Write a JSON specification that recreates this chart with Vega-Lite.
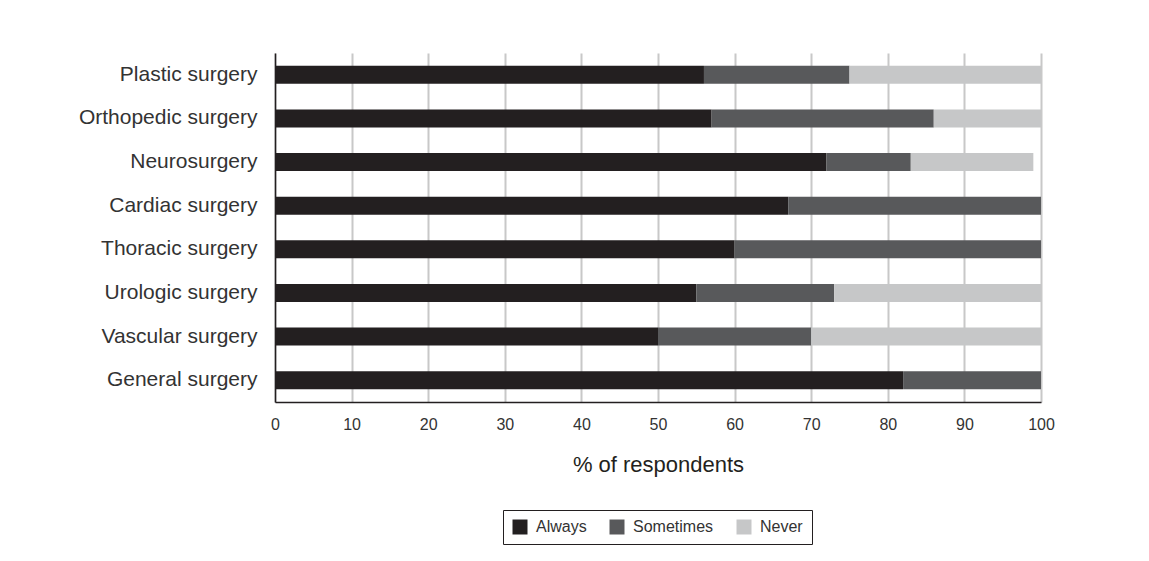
{
  "$schema": "https://vega.github.io/schema/vega-lite/v6.json",
  "autosize": {"type": "none"},
  "padding": {"left": 275, "top": 53, "right": 108, "bottom": 159},
  "width": 766,
  "height": 349,
  "background": "white",
  "config": {"view": {"stroke": null}, "font": "Liberation Sans"},
  "data": {
    "values": [
      {"specialty": "Plastic surgery", "response": "Always", "ord": 1, "pct": 56},
      {"specialty": "Plastic surgery", "response": "Sometimes", "ord": 2, "pct": 19},
      {"specialty": "Plastic surgery", "response": "Never", "ord": 3, "pct": 25},
      {"specialty": "Orthopedic surgery", "response": "Always", "ord": 1, "pct": 57},
      {"specialty": "Orthopedic surgery", "response": "Sometimes", "ord": 2, "pct": 29},
      {"specialty": "Orthopedic surgery", "response": "Never", "ord": 3, "pct": 14},
      {"specialty": "Neurosurgery", "response": "Always", "ord": 1, "pct": 72},
      {"specialty": "Neurosurgery", "response": "Sometimes", "ord": 2, "pct": 11},
      {"specialty": "Neurosurgery", "response": "Never", "ord": 3, "pct": 16},
      {"specialty": "Cardiac surgery", "response": "Always", "ord": 1, "pct": 67},
      {"specialty": "Cardiac surgery", "response": "Sometimes", "ord": 2, "pct": 33},
      {"specialty": "Thoracic surgery", "response": "Always", "ord": 1, "pct": 60},
      {"specialty": "Thoracic surgery", "response": "Sometimes", "ord": 2, "pct": 40},
      {"specialty": "Urologic surgery", "response": "Always", "ord": 1, "pct": 55},
      {"specialty": "Urologic surgery", "response": "Sometimes", "ord": 2, "pct": 18},
      {"specialty": "Urologic surgery", "response": "Never", "ord": 3, "pct": 27},
      {"specialty": "Vascular surgery", "response": "Always", "ord": 1, "pct": 50},
      {"specialty": "Vascular surgery", "response": "Sometimes", "ord": 2, "pct": 20},
      {"specialty": "Vascular surgery", "response": "Never", "ord": 3, "pct": 30},
      {"specialty": "General surgery", "response": "Always", "ord": 1, "pct": 82},
      {"specialty": "General surgery", "response": "Sometimes", "ord": 2, "pct": 18}
    ]
  },
  "mark": {"type": "bar", "height": 18},
  "encoding": {
    "y": {
      "field": "specialty",
      "type": "nominal",
      "sort": ["Plastic surgery", "Orthopedic surgery", "Neurosurgery", "Cardiac surgery", "Thoracic surgery", "Urologic surgery", "Vascular surgery", "General surgery"],
      "scale": {"paddingInner": 0.586, "paddingOuter": 0.293},
      "axis": {
        "title": null,
        "ticks": false,
        "domainColor": "#231f20",
        "domainWidth": 1.5,
        "labelFontSize": 21,
        "labelColor": "#333333",
        "labelPadding": 18,
        "labelLimit": 300
      }
    },
    "x": {
      "field": "pct",
      "type": "quantitative",
      "stack": "zero",
      "scale": {"domain": [0, 100]},
      "axis": {
        "title": "% of respondents",
        "values": [0, 10, 20, 30, 40, 50, 60, 70, 80, 90, 100],
        "ticks": false,
        "grid": true,
        "gridColor": "#c8c8c8",
        "gridWidth": 2,
        "domainColor": "#231f20",
        "domainWidth": 1.5,
        "labelFlush": false,
        "labelFontSize": 16,
        "labelColor": "#333333",
        "labelPadding": 14,
        "titleFontSize": 22,
        "titleFontWeight": "normal",
        "titleColor": "#231f20",
        "titlePadding": 22
      }
    },
    "color": {
      "field": "response",
      "type": "nominal",
      "scale": {"domain": ["Always", "Sometimes", "Never"], "range": ["#231f20", "#58595b", "#c6c7c8"]},
      "legend": {
        "title": null,
        "orient": "none",
        "legendX": 228,
        "legendY": 457,
        "direction": "horizontal",
        "symbolType": "square",
        "symbolSize": 225,
        "symbolStrokeWidth": 0,
        "labelFontSize": 16,
        "labelColor": "#333333",
        "strokeColor": "#231f20",
        "padding": 9,
        "columnPadding": 22,
        "labelOffset": 8
      }
    },
    "order": {"field": "ord", "type": "quantitative"}
  }
}
